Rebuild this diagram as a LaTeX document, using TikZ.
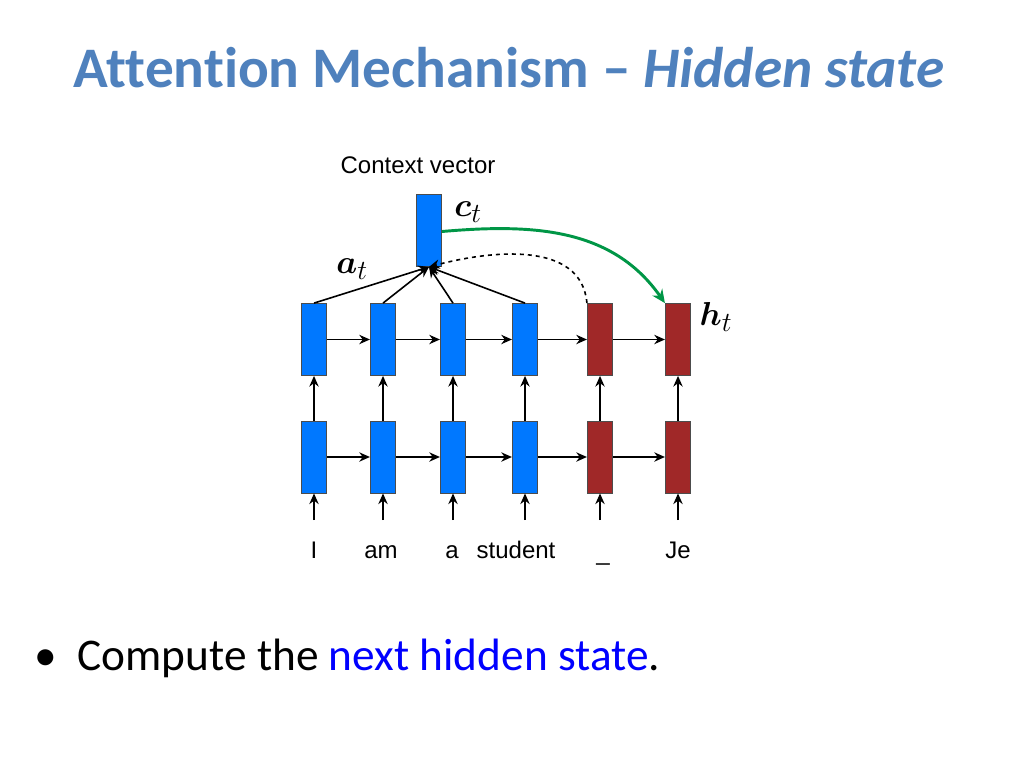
\documentclass[tikz,border=0pt]{standalone}
\usepackage{amsmath,bm}
\usepackage{fontspec}
\setmainfont[Ligatures=NoCommon]{Carlito}
\newfontfamily\arialf{Liberation Sans}
\usetikzlibrary{arrows.meta}
\definecolor{ttl}{RGB}{79,129,189}
\definecolor{bbox}{RGB}{0,120,255}
\definecolor{rbox}{RGB}{160,40,40}
\definecolor{grn}{RGB}{0,150,70}
\begin{document}
\begin{tikzpicture}[x=0.75pt,y=-0.75pt,
  cell/.style={draw=black!70,line width=0.6pt,minimum width=19pt,minimum height=54pt,inner sep=0pt},
  enc/.style={cell,fill=bbox},
  dec/.style={cell,fill=rbox},
  arr/.style={-{Stealth[length=8pt,width=7pt]},line width=1.2pt},
  lbl/.style={font=\arialf\fontsize{18}{22}\selectfont,anchor=base}]
\useasboundingbox (0,0) rectangle (1024,768);
\node[font=\bfseries\fontsize{43}{48}\selectfont,text=ttl] (title) at (509,68) {Attention Mechanism -- \textit{Hidden state}};
\foreach \i/\x/\s in {1/314/enc,2/383/enc,3/453/enc,4/525/enc,5/600/dec,6/678/dec}{
  \node[\s] (b\i) at (\x,457) {};
  \node[\s] (t\i) at (\x,339.5) {};
  \coordinate (in\i) at (\x,520);
  \draw[arr] (in\i) -- (b\i.south);
  \draw[arr] (b\i) -- (t\i);
}
\foreach \i/\j in {1/2,2/3,3/4,4/5,5/6}{
  \draw[arr] (b\i) -- (b\j);
  \draw[arr] (t\i) -- (t\j);
}
\node[enc] (c) at (429,230.5) {};
\foreach \i in {1,2,3,4} \draw[arr] (t\i.north) -- (c.south);
\draw[arr,dashed] (t5.north west) to[out=95,in=15] (c.south);
\draw[-{Stealth[length=10pt,width=9pt]},grn,line width=2.2pt] (c.east) ++(0,1) coordinate (cs) to[out=5,in=125] (t6.north west);
\node[lbl] (cv) at (418,173) {Context vector};
\node[font=\fontsize{30}{34}\selectfont] (ct) at (468,212) {$\bm{c}_t$};
\node[font=\fontsize{30}{34}\selectfont] (at) at (352,269) {$\bm{a}_t$};
\node[font=\fontsize{30}{34}\selectfont] (ht) at (716,317) {$\bm{h}_t$};
\foreach \i/\x/\w in {1/314/I,2/381/am,3/452/a,4/516/student,6/678/Je}
  \node[lbl] (w\i) at (\x,558) {\w};
\node[lbl] (w5) at (603,560) {\_};
\node[anchor=west,font=\fontsize{34}{38}\selectfont] (bul) at (30,658) {\textbullet\hspace{0.45em}Compute the \textcolor{blue}{next hidden state}.};
\end{tikzpicture}
\end{document}
